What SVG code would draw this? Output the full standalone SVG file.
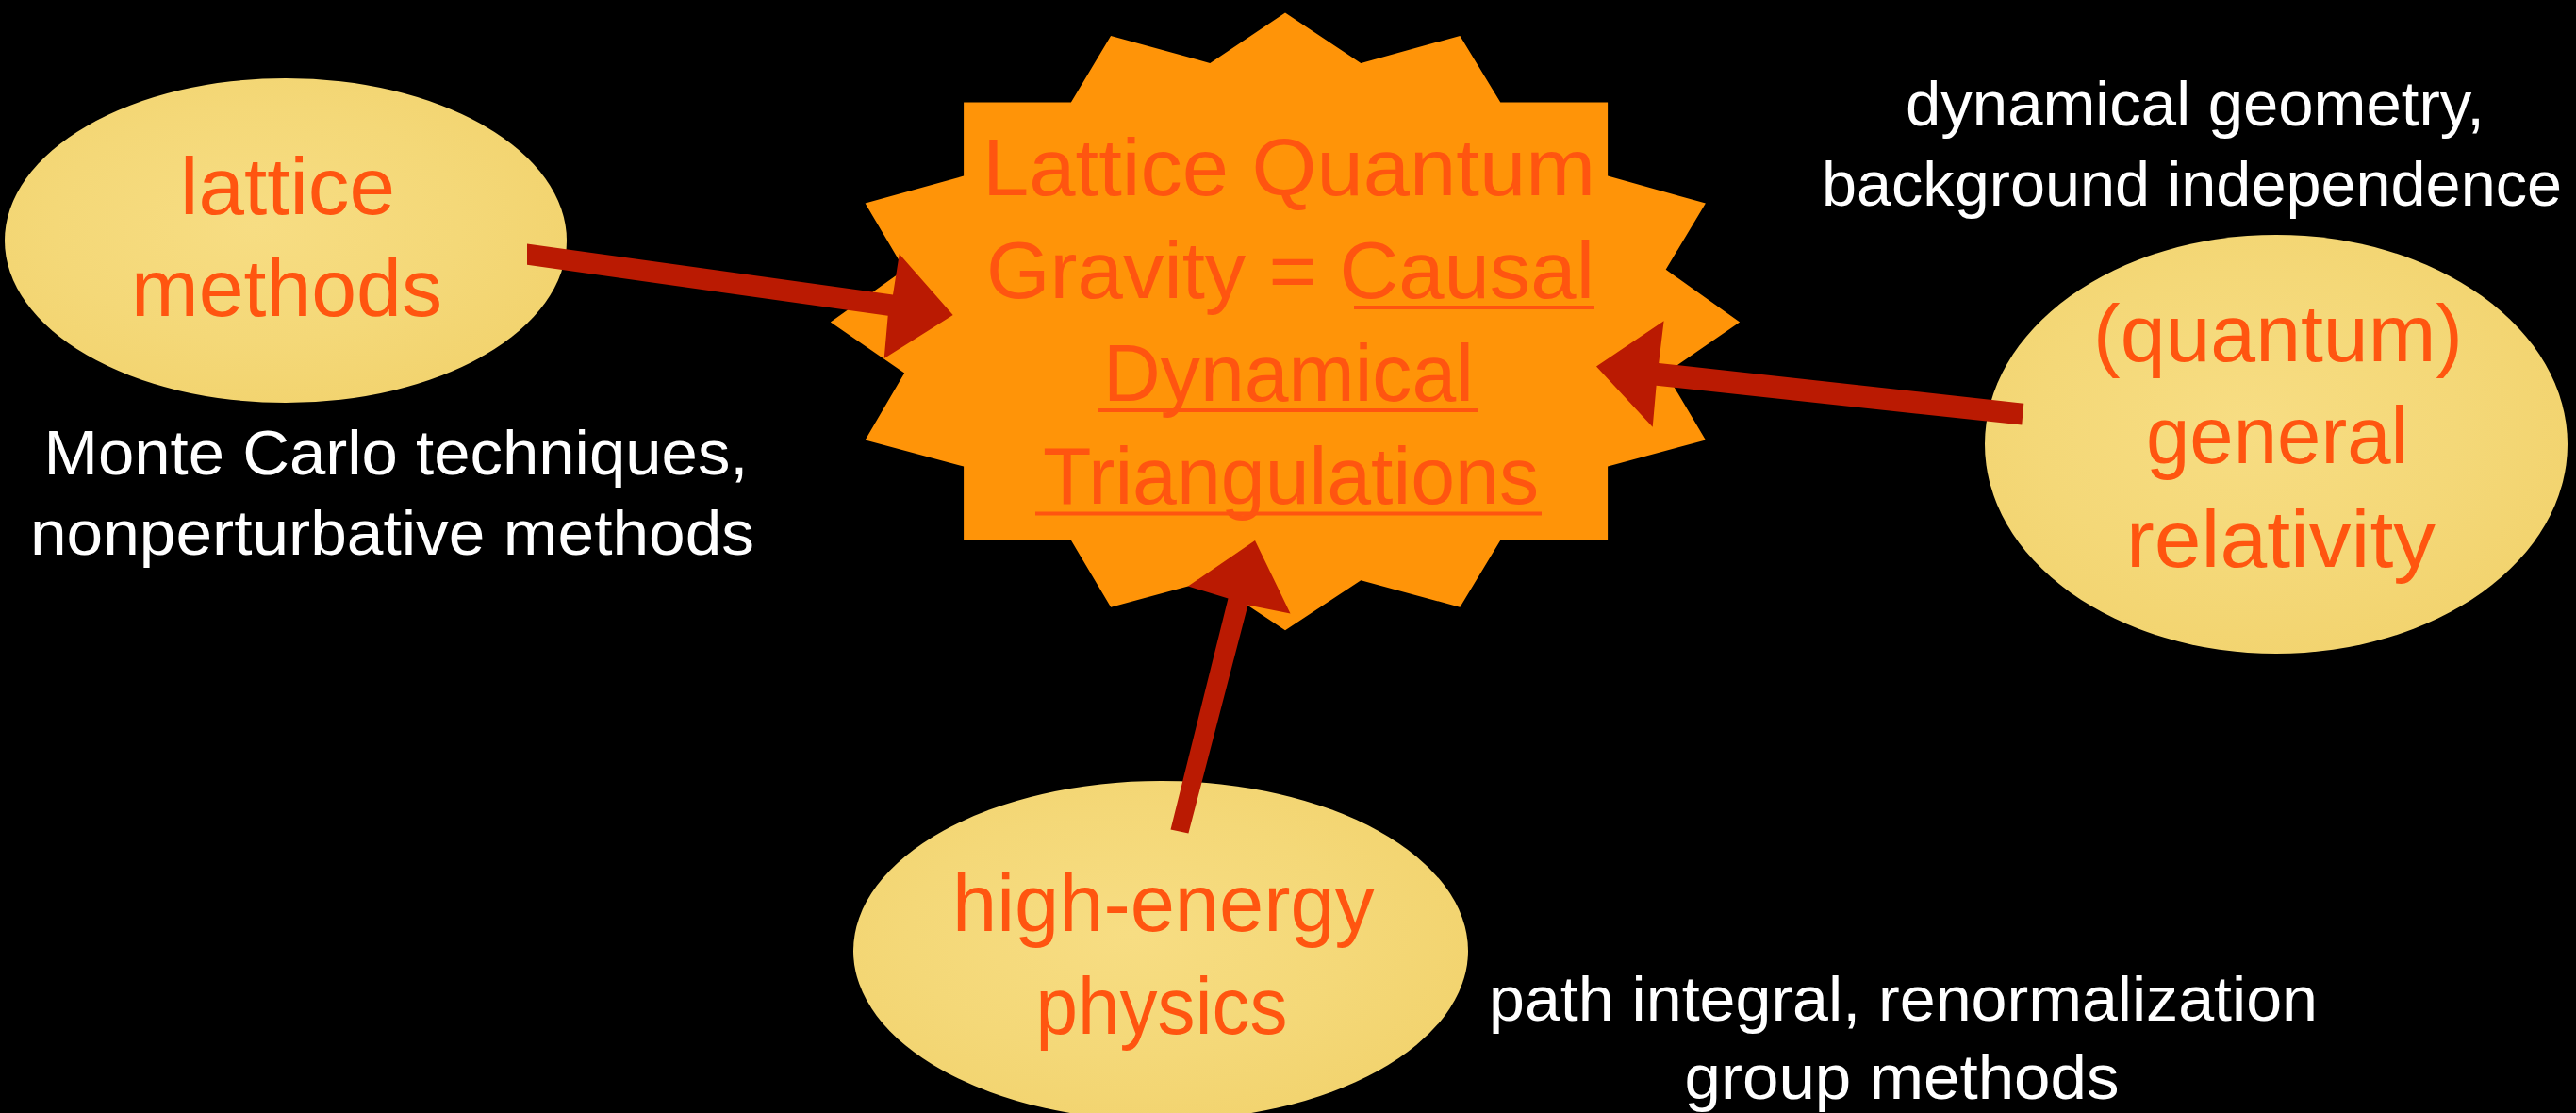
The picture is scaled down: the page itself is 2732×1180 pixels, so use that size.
<svg xmlns="http://www.w3.org/2000/svg" width="2732" height="1180" viewBox="0 0 2732 1180">
<style>
.orange{font-family:"Liberation Sans","Lato",sans-serif;font-size:86px;fill:#FF5510;text-anchor:middle}
.white{font-family:"Liberation Sans","Lato",sans-serif;font-size:66px;fill:#FFFFFF;text-anchor:middle}
.ell{fill:url(#parch)}
.arrow{fill:#BA1A02}
.ul{fill:#FF5510}
</style>
<defs>
<radialGradient id="parch" cx="0.45" cy="0.45" r="0.6">
<stop offset="0" stop-color="#F7DD83"/>
<stop offset="0.6" stop-color="#F4D878"/>
<stop offset="1" stop-color="#F2D36E"/>
</radialGradient>
</defs>
<rect x="0" y="0" width="2732" height="1180" fill="#000000"/>

<g id="node-lattice">
<ellipse class="ell" cx="303" cy="255" rx="298" ry="172"/>
<text class="orange" x="305" y="227" textLength="228" lengthAdjust="spacingAndGlyphs">lattice</text>
<text class="orange" x="304" y="335" textLength="330" lengthAdjust="spacingAndGlyphs">methods</text>
</g>

<g id="node-gr">
<ellipse class="ell" cx="2414" cy="471" rx="309" ry="222"/>
<text class="orange" x="2416" y="383" textLength="392" lengthAdjust="spacingAndGlyphs">(quantum)</text>
<text class="orange" x="2415" y="491" textLength="278" lengthAdjust="spacingAndGlyphs">general</text>
<text class="orange" x="2419" y="601" textLength="328" lengthAdjust="spacingAndGlyphs">relativity</text>
</g>

<g id="node-hep">
<ellipse class="ell" cx="1231" cy="1008" rx="326" ry="180"/>
<text class="orange" x="1234" y="987" textLength="448" lengthAdjust="spacingAndGlyphs">high-energy</text>
<text class="orange" x="1232" y="1096" textLength="267" lengthAdjust="spacingAndGlyphs">physics</text>
</g>

<g id="node-cdt">
<polygon fill="#FF9408" points="1363,13.4 1443.3,67 1548.4,37.9 1591.3,108.5 1705.1,108.5 1705.1,186.6 1808.9,215.6 1766.7,285.7 1845.1,341.5 1766.7,395.5 1808.9,466.5 1705.1,494.6 1705.1,572.8 1591.3,572.8 1548.4,643.7 1443.3,615.2 1363,668.3 1283.3,615.2 1178.1,643.7 1135.9,572.8 1022.1,572.8 1022.1,494.6 917.6,466.5 959.2,395.5 880.8,341.5 959.2,285.7 917.6,215.6 1022.1,186.6 1022.1,108.5 1135.9,108.5 1178.1,37.9 1283.3,67"/>
<text class="orange" x="1367" y="207" textLength="650" lengthAdjust="spacingAndGlyphs">Lattice Quantum</text>
<text class="orange" x="1368.5" y="316" textLength="645" lengthAdjust="spacingAndGlyphs">Gravity = Causal</text>
<text class="orange" x="1366.5" y="425" textLength="393" lengthAdjust="spacingAndGlyphs">Dynamical</text>
<text class="orange" x="1369" y="534" textLength="526" lengthAdjust="spacingAndGlyphs">Triangulations</text>
<rect class="ul" x="1436" y="324" width="255" height="4"/>
<rect class="ul" x="1165" y="433" width="403" height="4"/>
<rect class="ul" x="1098" y="542.5" width="537" height="4"/>
</g>

<g id="labels">
<text class="white" x="2328" y="133" textLength="614" lengthAdjust="spacingAndGlyphs">dynamical geometry,</text>
<text class="white" x="2324.5" y="218" textLength="785" lengthAdjust="spacingAndGlyphs">background independence</text>
<text class="white" x="420" y="503" textLength="747" lengthAdjust="spacingAndGlyphs">Monte Carlo techniques,</text>
<text class="white" x="416" y="587.5" textLength="768" lengthAdjust="spacingAndGlyphs">nonperturbative methods</text>
<text class="white" x="2018.5" y="1082" textLength="879" lengthAdjust="spacingAndGlyphs">path integral, renormalization</text>
<text class="white" x="2017" y="1165" textLength="461" lengthAdjust="spacingAndGlyphs">group methods</text>
</g>

<g id="connectors">
<polygon class="arrow" points="559,258.5 947,312.5 953.8,269.2 1010.7,334 937.7,379.9 941.7,334.8 559,280.7"/>
<polygon class="arrow" points="2146.3,427.7 1759.2,385 1764.6,340.2 1693,388.4 1752.7,452.8 1756.6,408.7 2144.3,450.6"/>
<polygon class="arrow" points="1241.5,879.5 1302.5,634.4 1260,621.5 1331,573 1368.5,650.5 1323.5,641.6 1260.4,883.5"/>
</g>
</svg>
